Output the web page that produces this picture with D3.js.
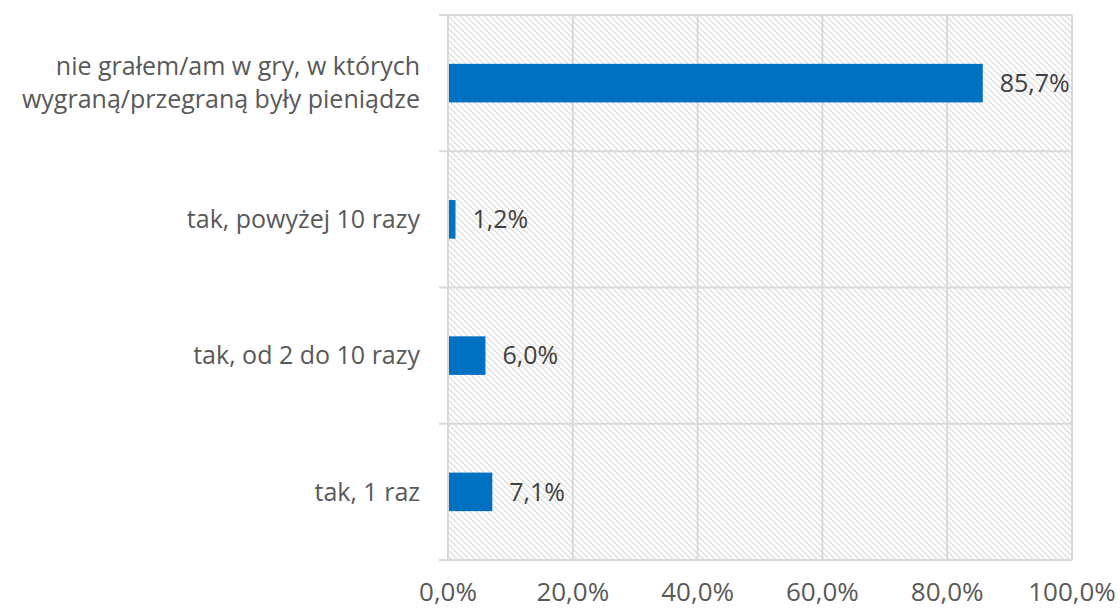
<!DOCTYPE html>
<html><head><meta charset="utf-8">
<script src="https://cdn.jsdelivr.net/npm/d3@7"></script>
<style>body{margin:0;background:#fff}</style>
</head><body>
<svg id="c" width="1120" height="609"></svg>
<script>
const categories = [
  ["nie grałem/am w gry, w których", "wygraną/przegraną były pieniądze"],
  ["tak, powyżej 10 razy"],
  ["tak, od 2 do 10 razy"],
  ["tak, 1 raz"]
];
const values = [85.7, 1.2, 6.0, 7.1];
const tickValues = [0, 20, 40, 60, 80, 100];
const fmt = v => v.toFixed(1).replace(".", ",") + "%";

(function () {
const svg = d3.select("#c");
const pL = 448, pR = 1072, pT = 15, pB = 560;
const x = d3.scaleLinear().domain([0, 100]).range([pL, pR]);
const y = d3.scaleBand().domain(d3.range(categories.length)).range([pT, pB]);
const font = "'Open Sans', sans-serif";

const defs = svg.append("defs");
const pat = defs.append("pattern").attr("id", "hatch").attr("patternUnits", "userSpaceOnUse")
  .attr("width", 6).attr("height", 6);
pat.append("rect").attr("width", 6).attr("height", 6).attr("fill", "#fff");
pat.append("path").attr("d", "M-1,-1 L7,7 M-7,-1 L1,7 M5,-1 L13,7").attr("stroke", "#d9d9d9").attr("stroke-width", 1.2);

svg.append("rect").attr("x", pL).attr("y", pT).attr("width", pR - pL).attr("height", pB - pT)
  .attr("fill", "url(#hatch)");

svg.append("g").selectAll("line").data(tickValues).join("line")
  .attr("x1", d => x(d)).attr("x2", d => x(d)).attr("y1", pT).attr("y2", pB)
  .attr("stroke", "#d9d9d9").attr("stroke-width", 2);
const bounds = d3.range(categories.length + 1).map(i => i < categories.length ? y(i) : pB);
svg.append("g").selectAll("line").data(bounds).join("line")
  .attr("x1", pL - 9).attr("x2", pR).attr("y1", d => d).attr("y2", d => d)
  .attr("stroke", "#d9d9d9").attr("stroke-width", 2);

const bh = y.bandwidth() * 0.283;
svg.append("g").selectAll("rect").data(values).join("rect")
  .attr("x", pL + 1).attr("y", (d, i) => y(i) + y.bandwidth() / 2 - bh / 2)
  .attr("width", d => x(d) - pL - 1).attr("height", bh).attr("fill", "#0070c0");

svg.append("g").selectAll("text").data(values).join("text")
  .attr("x", d => x(d) + 17).attr("y", (d, i) => y(i) + y.bandwidth() / 2)
  .attr("dy", "0.35em").attr("font-family", font).attr("font-size", 25).attr("fill", "#404040")
  .text(fmt);

const cl = svg.append("g");
categories.forEach((lines, i) => {
  const cy = y(i) + y.bandwidth() / 2;
  const lh = 33;
  lines.forEach((t, j) => {
    cl.append("text").attr("x", 420).attr("y", cy + (j - (lines.length - 1) / 2) * lh)
      .attr("dy", "0.35em").attr("text-anchor", "end").attr("font-family", font)
      .attr("font-size", 25).attr("fill", "#595959").text(t);
  });
});

svg.append("g").selectAll("text").data(tickValues).join("text")
  .attr("x", d => x(d)).attr("y", 592).attr("dy", "0.35em").attr("text-anchor", "middle")
  .attr("font-family", font).attr("font-size", 26).attr("fill", "#595959").text(fmt);
})();
</script>
</body></html>
